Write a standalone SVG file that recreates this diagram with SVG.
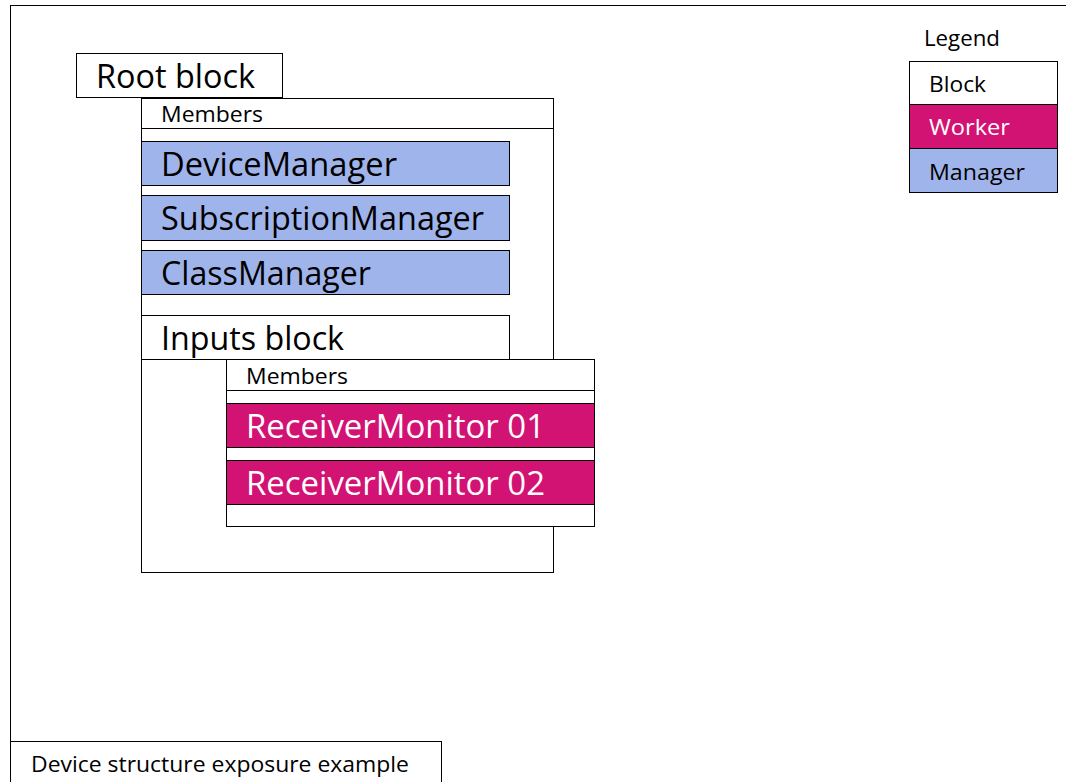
<svg xmlns="http://www.w3.org/2000/svg" width="1066" height="782" viewBox="0 0 1066 782">
  <style>
    text { font-family: "Open Sans", "Noto Sans", sans-serif; fill: #000; }
    .frame { fill: #fff; stroke: #000; stroke-width: 1; }
    .block { fill: #fff; stroke: #000; stroke-width: 1; }
    .manager { fill: #a0b4ec; stroke: #000; stroke-width: 1; }
    .worker { fill: #d21374; stroke: #000; stroke-width: 1; }
    .big { font-size: 32px; }
    .small { font-size: 22px; }
    .light { fill: #fff; }
  </style>

  <rect width="1066" height="782" fill="#fff"/>

  <!-- outer diagram frame -->
  <g id="frame">
    <rect class="frame" x="10.5" y="5.5" width="1070" height="790"/>
  </g>

  <!-- root block -->
  <g id="root-block">
    <rect class="block" x="141.5" y="98.5" width="412" height="474"/>
    <rect class="block" x="141.5" y="98.5" width="412" height="30"/>
    <text class="small" x="161" y="122" textLength="102" lengthAdjust="spacingAndGlyphs">Members</text>
    <rect class="block" x="76.5" y="53.5" width="206" height="44"/>
    <text class="big" x="96" y="88" textLength="159" lengthAdjust="spacingAndGlyphs">Root block</text>
  </g>

  <g id="device-manager">
    <rect class="manager" x="141.5" y="141.5" width="368" height="44"/>
    <text class="big" x="161" y="176" textLength="236" lengthAdjust="spacingAndGlyphs">DeviceManager</text>
  </g>

  <g id="subscription-manager">
    <rect class="manager" x="141.5" y="195.5" width="368" height="45"/>
    <text class="big" x="161" y="230" textLength="323" lengthAdjust="spacingAndGlyphs">SubscriptionManager</text>
  </g>

  <g id="class-manager">
    <rect class="manager" x="141.5" y="250.5" width="368" height="44"/>
    <text class="big" x="161" y="285" textLength="210" lengthAdjust="spacingAndGlyphs">ClassManager</text>
  </g>

  <!-- inputs block -->
  <g id="inputs-block">
    <rect class="block" x="141.5" y="315.5" width="368" height="44"/>
    <text class="big" x="161" y="350" textLength="183" lengthAdjust="spacingAndGlyphs">Inputs block</text>
    <rect class="block" x="226.5" y="359.5" width="368" height="167"/>
    <rect class="block" x="226.5" y="359.5" width="368" height="31"/>
    <text class="small" x="246" y="384" textLength="102" lengthAdjust="spacingAndGlyphs">Members</text>
  </g>

  <g id="receiver-monitor-01">
    <rect class="worker" x="226.5" y="403.5" width="368" height="44"/>
    <text class="big light" x="246" y="438" textLength="299" lengthAdjust="spacingAndGlyphs">ReceiverMonitor 01</text>
  </g>

  <g id="receiver-monitor-02">
    <rect class="worker" x="226.5" y="460.5" width="368" height="44"/>
    <text class="big light" x="246" y="495" textLength="299" lengthAdjust="spacingAndGlyphs">ReceiverMonitor 02</text>
  </g>

  <!-- legend -->
  <g id="legend">
    <text class="small" x="924" y="46" textLength="76" lengthAdjust="spacingAndGlyphs">Legend</text>
    <rect class="block" x="909.5" y="61.5" width="148" height="43"/>
    <text class="small" x="929" y="92" textLength="57" lengthAdjust="spacingAndGlyphs">Block</text>
    <rect class="worker" x="909.5" y="104.5" width="148" height="44"/>
    <text class="small light" x="929" y="135" textLength="81" lengthAdjust="spacingAndGlyphs">Worker</text>
    <rect class="manager" x="909.5" y="148.5" width="148" height="44"/>
    <text class="small" x="929" y="180" textLength="96" lengthAdjust="spacingAndGlyphs">Manager</text>
  </g>

  <!-- caption -->
  <g id="caption">
    <rect class="block" x="10.5" y="741.5" width="431" height="50"/>
    <text class="small" x="31" y="772" textLength="378" lengthAdjust="spacingAndGlyphs">Device structure exposure example</text>
  </g>

  <g id="connectors"></g>
</svg>
